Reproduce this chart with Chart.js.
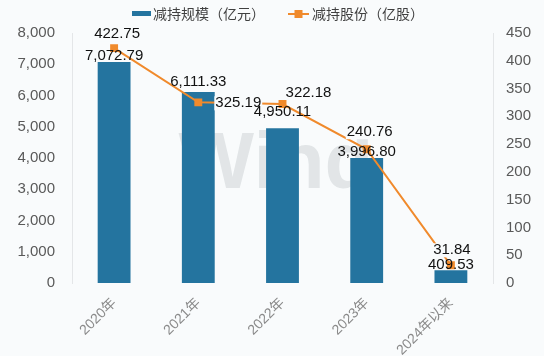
<!DOCTYPE html>
<html><head><meta charset="utf-8">
<script src="https://cdn.jsdelivr.net/npm/chart.js@4.4.1/dist/chart.umd.min.js"></script>
<style>html,body{margin:0;padding:0;background:#f9fbfc;overflow:hidden}#wrap{width:544px;height:356px}</style>
</head><body><div id="wrap"><canvas id="c" width="544" height="356"></canvas></div>
<script>
const categories = ['2020年', '2021年', '2022年', '2023年', '2024年以来'];
const scaleValues = [7072.79, 6111.33, 4950.11, 3996.80, 409.53];   // 减持规模（亿元）
const shareValues = [422.75, 325.19, 322.18, 240.76, 31.84];        // 减持股份（亿股）
const leftTicks = [0, 1000, 2000, 3000, 4000, 5000, 6000, 7000, 8000];
const rightTicks = [0, 50, 100, 150, 200, 250, 300, 350, 400, 450];
const seriesNames = ['减持规模（亿元）', '减持股份（亿股）'];

const BG = '#f9fbfc';
const BAR = '#24749f';
const ORANGE = '#f08a2c';
const NUMFONT = '"Liberation Sans", Arial, "Noto Sans CJK SC", sans-serif';
const CJKFONT = '"Noto Sans CJK SC", "Liberation Sans", sans-serif';

const fmt2 = v => v.toLocaleString('en-US', {minimumFractionDigits: 2, maximumFractionDigits: 2});

const bgPlugin = {
  id: 'bg',
  beforeDraw(chart) {
    const ctx = chart.ctx;
    ctx.save(); ctx.fillStyle = BG; ctx.fillRect(0, 0, chart.width, chart.height); ctx.restore();
  }
};

const watermark = {
  id: 'watermark',
  beforeDatasetsDraw(chart) {
    const ctx = chart.ctx;
    ctx.save();
    ctx.fillStyle = 'rgba(95,105,115,0.15)';
    ctx.font = 'bold 80px "Liberation Sans", Arial, sans-serif';
    ctx.textAlign = 'center'; ctx.textBaseline = 'middle';
    ctx.fillText('Wind', 276, 166);
    ctx.restore();
  }
};

const legendPlugin = {
  id: 'customLegend',
  afterDraw(chart) {
    const ctx = chart.ctx;
    ctx.save();
    const y = 14;
    ctx.fillStyle = BAR;
    ctx.fillRect(132, y - 3, 19, 5);
    ctx.font = '14px ' + CJKFONT;
    ctx.fillStyle = '#404040';
    ctx.textBaseline = 'middle'; ctx.textAlign = 'left';
    ctx.fillText(seriesNames[0], 153, y);
    ctx.strokeStyle = ORANGE; ctx.lineWidth = 2;
    ctx.beginPath(); ctx.moveTo(288, y); ctx.lineTo(309, y); ctx.stroke();
    ctx.fillStyle = ORANGE; ctx.fillRect(294.5, y - 4, 8, 8);
    ctx.fillStyle = '#404040';
    ctx.fillText(seriesNames[1], 312, y);
    ctx.restore();
  }
};

const labelPlugin = {
  id: 'valueLabels',
  afterDatasetsDraw(chart, args, opts) {
    const ctx = chart.ctx;
    ctx.save();
    ctx.font = '15px ' + NUMFONT;
    ctx.textAlign = 'center'; ctx.textBaseline = 'middle';
    const lm = chart.getDatasetMeta(1);
    lm.data.forEach((el, i) => {
      const t = fmt2(shareValues[i]);
      const o = opts.lineOffsets[i];
      const x = el.x + o[0], y = el.y + o[1];
      const w = ctx.measureText(t).width;
      ctx.fillStyle = BG;
      ctx.fillRect(x - w / 2 - 1, y - 7, w + 2, 14);
      ctx.fillStyle = '#111';
      ctx.fillText(t, x, y);
    });
    const bm = chart.getDatasetMeta(0);
    bm.data.forEach((el, i) => {
      const t = fmt2(scaleValues[i]);
      ctx.fillStyle = '#111';
      ctx.fillText(t, el.x, el.y - opts.barOffsets[i]);
    });
    ctx.restore();
  }
};

new Chart(document.getElementById('c'), {
  data: {
    labels: categories,
    datasets: [
      {
        type: 'bar', label: seriesNames[0], data: scaleValues, yAxisID: 'y',
        backgroundColor: BAR, borderWidth: 0,
        barPercentage: 0.39, categoryPercentage: 1.0, order: 2
      },
      {
        type: 'line', label: seriesNames[1], data: shareValues, yAxisID: 'y1',
        borderColor: ORANGE, borderWidth: 2, tension: 0,
        pointStyle: 'rect', pointRadius: 5.6, pointBackgroundColor: ORANGE,
        pointBorderWidth: 0, fill: false, order: 1
      }
    ]
  },
  options: {
    responsive: false, devicePixelRatio: 1, animation: false,
    layout: {padding: {top: 33, left: 0, right: 0, bottom: 0}},
    plugins: {
      legend: {display: false}, tooltip: {enabled: false},
      valueLabels: {
        lineOffsets: [[3, -14], [40, 1], [26, -11], [3, -17], [1, -15]],
        barOffsets: [6, 10, 16, 6, 5]
      }
    },
    scales: {
      x: {
        type: 'category', offset: true,
        grid: {display: false, drawTicks: false}, border: {display: false},
        ticks: {minRotation: 45, maxRotation: 45, autoSkip: false, color: '#8a8a8a',
                font: {size: 14, family: NUMFONT}, padding: 12},
        afterFit(s) { s.height = 73; }
      },
      y: {
        position: 'left', min: 0, max: 8000,
        afterBuildTicks(s) { s.ticks = leftTicks.map(v => ({value: v})); },
        grid: {display: false, drawTicks: false},
        border: {display: true, color: '#e4e6e8', width: 1},
        ticks: {color: '#595959', font: {size: 15, family: NUMFONT}, padding: 17,
                callback: v => v.toLocaleString('en-US')},
        afterFit(s) { s.width = 72; }
      },
      y1: {
        position: 'right', min: 0, max: 450,
        afterBuildTicks(s) { s.ticks = rightTicks.map(v => ({value: v})); },
        grid: {display: false, drawTicks: false},
        border: {display: true, color: '#e4e6e8', width: 1},
        ticks: {color: '#595959', font: {size: 15, family: NUMFONT}, padding: 13,
                callback: v => String(v)},
        afterFit(s) { s.width = 51; }
      }
    }
  },
  plugins: [bgPlugin, watermark, labelPlugin, legendPlugin]
});
</script>
</body></html>
